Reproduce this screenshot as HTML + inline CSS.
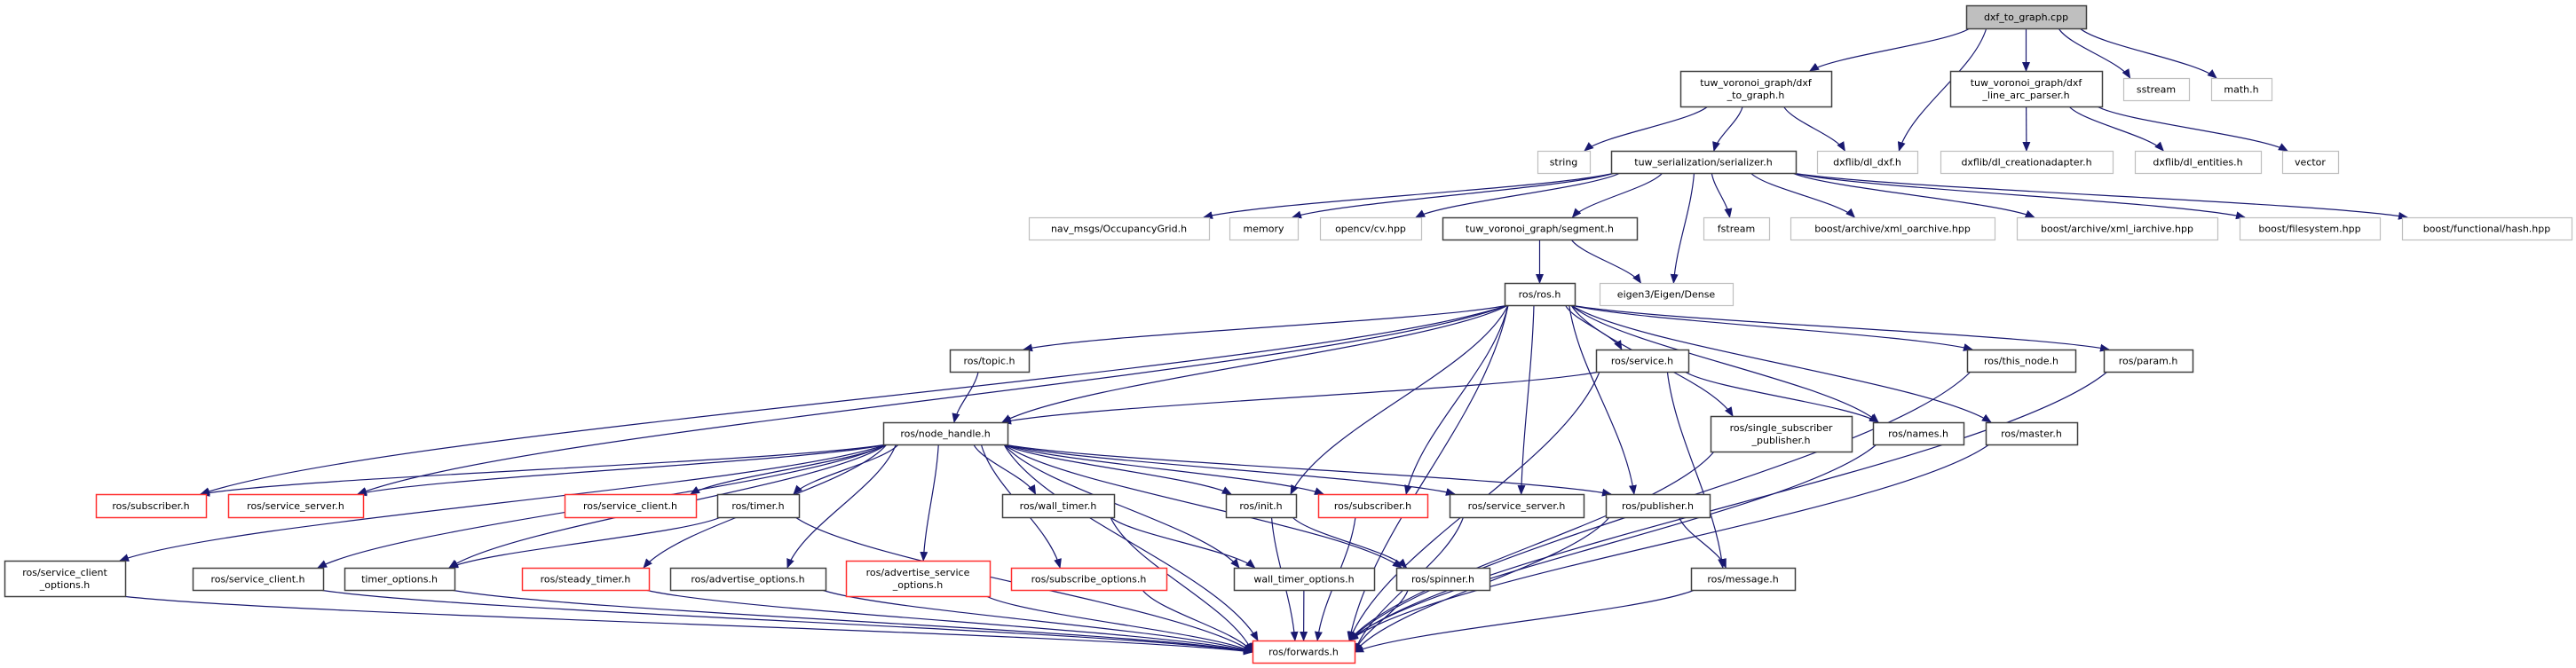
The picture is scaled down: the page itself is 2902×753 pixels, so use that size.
<!DOCTYPE html>
<html><head><meta charset="utf-8"><style>
html,body{margin:0;padding:0;background:#fff;width:2902px;height:753px;overflow:hidden}
svg{display:block}
text{font-family:"DejaVu Sans","Liberation Sans",sans-serif;font-size:11px}
</style></head><body>
<svg id="g" width="2902" height="753" viewBox="0 0 2902 753" xmlns="http://www.w3.org/2000/svg">
<defs><marker id="ah" markerWidth="11" markerHeight="9" refX="10" refY="4.5" orient="auto" markerUnits="userSpaceOnUse"><path d="M0,0 L11,4.5 L0,9 z" fill="#191970"/></marker></defs>
<g id="edges" fill="none" stroke="#191970" stroke-width="1.2"></g>
<g id="nodes"></g>
</svg>
<script>
var N={
root:[2215,6,2350,32,'dxf_to_graph.cpp','root'],
d2g:[1893,80,2063,120,'tuw_voronoi_graph/dxf|_to_graph.h','b'],
lap:[2197,80,2368,120,'tuw_voronoi_graph/dxf|_line_arc_parser.h','b'],
sstream:[2392,88,2466,113,'sstream','g'],
math:[2491,88,2559,113,'math.h','g'],
string:[1732,170,1791,195,'string','g'],
ser:[1815,170,2023,195,'tuw_serialization/serializer.h','b'],
dldxf:[2047,170,2160,195,'dxflib/dl_dxf.h','g'],
dlca:[2186,170,2380,195,'dxflib/dl_creationadapter.h','g'],
dlent:[2405,170,2547,195,'dxflib/dl_entities.h','g'],
vector:[2571,170,2634,195,'vector','g'],
occ:[1159,245,1362,270,'nav_msgs/OccupancyGrid.h','g'],
memory:[1385,245,1462,270,'memory','g'],
cv:[1487,245,1601,270,'opencv/cv.hpp','g'],
seg:[1625,245,1844,270,'tuw_voronoi_graph/segment.h','b'],
fstream:[1919,245,1993,270,'fstream','g'],
oarc:[2017,245,2247,270,'boost/archive/xml_oarchive.hpp','g'],
iarc:[2272,245,2498,270,'boost/archive/xml_iarchive.hpp','g'],
fs:[2523,245,2681,270,'boost/filesystem.hpp','g'],
hash:[2706,245,2897,270,'boost/functional/hash.hpp','g'],
ros:[1695,319,1774,344,'ros/ros.h','b'],
dense:[1802,319,1952,344,'eigen3/Eigen/Dense','g'],
topic:[1070,394,1159,419,'ros/topic.h','b'],
service:[1798,394,1902,419,'ros/service.h','b'],
thisn:[2216,394,2338,419,'ros/this_node.h','b'],
param:[2370,394,2470,419,'ros/param.h','b'],
nh:[995,476,1135,501,'ros/node_handle.h','b'],
ssp:[1927,469,2086,509,'ros/single_subscriber|_publisher.h','b'],
names:[2110,476,2212,501,'ros/names.h','b'],
master:[2237,476,2340,501,'ros/master.h','b'],
subL:[108,557,232,583,'ros/subscriber.h','r'],
ssL:[257,557,409,583,'ros/service_server.h','r'],
scR:[636,557,784,583,'ros/service_client.h','r'],
timer:[808,557,900,583,'ros/timer.h','b'],
wt:[1129,557,1255,583,'ros/wall_timer.h','b'],
init:[1381,557,1460,583,'ros/init.h','b'],
subM:[1485,557,1608,583,'ros/subscriber.h','r'],
ssM:[1633,557,1784,583,'ros/service_server.h','b'],
pub:[1809,557,1926,583,'ros/publisher.h','b'],
sco:[5,632,141,672,'ros/service_client|_options.h','b'],
sc:[217,640,364,665,'ros/service_client.h','b'],
to:[388,640,512,665,'timer_options.h','b'],
st:[588,640,731,665,'ros/steady_timer.h','r'],
ao:[755,640,930,665,'ros/advertise_options.h','b'],
aso:[953,632,1115,672,'ros/advertise_service|_options.h','r'],
so:[1139,640,1314,665,'ros/subscribe_options.h','r'],
wto:[1390,640,1548,665,'wall_timer_options.h','b'],
spin:[1573,640,1678,665,'ros/spinner.h','b'],
msg:[1905,640,2022,665,'ros/message.h','b'],
fwd:[1411,722,1526,747,'ros/forwards.h','r']
};
var E=[['root','d2g'],['root','dldxf'],['root','lap'],['root','sstream'],['root','math'],
['d2g','string'],['d2g','ser'],['d2g','dldxf'],['lap','dlca'],['lap','dlent'],['lap','vector'],
['ser','occ'],['ser','memory'],['ser','cv'],['ser','seg'],['ser','dense'],['ser','fstream'],['ser','oarc'],['ser','iarc'],['ser','fs'],['ser','hash'],
['seg','ros'],['seg','dense'],
['ros','subL'],['ros','ssL'],['ros','topic'],['ros','nh'],['ros','service'],['ros','init'],['ros','subM'],['ros','ssM'],['ros','pub'],['ros','ssp'],['ros','names'],['ros','thisn'],['ros','master'],['ros','param'],['ros','fwd'],
['topic','nh'],['service','nh'],['service','names'],['service','msg'],['service','fwd'],
['nh','subL'],['nh','ssL'],['nh','sco'],['nh','scR'],['nh','timer'],['nh','sc'],['nh','to'],['nh','st'],['nh','ao'],['nh','aso'],['nh','so'],['nh','wt'],['nh','wto'],['nh','spin'],['nh','init'],['nh','subM'],['nh','ssM'],['nh','pub'],['nh','fwd'],
['timer','to'],['timer','fwd'],['wt','wto'],['wt','fwd'],['init','spin'],['init','fwd'],['subM','fwd'],['ssM','fwd'],['pub','msg'],['pub','fwd'],
['ssp','fwd'],['names','fwd'],['master','fwd'],['thisn','fwd'],['param','fwd'],
['sco','fwd'],['sc','fwd'],['to','fwd'],['st','fwd'],['ao','fwd'],['aso','fwd'],['so','fwd'],['wto','fwd'],['spin','fwd'],['msg','fwd']];
var ns='http://www.w3.org/2000/svg';
function cl(v,a,b){return Math.max(a,Math.min(b,v));}
var eg=document.getElementById('edges'),ng=document.getElementById('nodes');
E.forEach(function(e){
 var s=N[e[0]],t=N[e[1]];
 var scx=(s[0]+s[2])/2,tcx=(t[0]+t[2])/2;
 var sx=cl(scx+(tcx-scx)*0.25,s[0]+4,s[2]-4),sy=s[3];
 var tx,ty;
 if(e[1]=='fwd'&&(t[1]-s[3])<200&&Math.abs(tcx-scx)>120){
   ty=735;tx=tcx<scx?t[2]:t[0];
 } else {tx=cl(tcx+(scx-tcx)*0.2,t[0]+6,t[2]-6);ty=t[1];}
 var dy=ty-sy;
 var p=document.createElementNS(ns,'path');
 p.setAttribute('d','M'+sx+','+sy+' C'+(sx+(tx-sx)*0.15)+','+(sy+dy*0.35)+' '+(tx-(tx-sx)*0.15)+','+(ty-dy*0.35)+' '+tx+','+ty);
 p.setAttribute('marker-end','url(#ah)');eg.appendChild(p);
});
for(var k in N){var n=N[k];
 var r=document.createElementNS(ns,'rect');
 r.setAttribute('x',n[0]+0.5);r.setAttribute('y',n[1]+0.5);r.setAttribute('width',n[2]-n[0]);r.setAttribute('height',n[3]-n[1]);
 var st=n[5];
 r.setAttribute('fill',st=='root'?'#bfbfbf':'#fff');
 r.setAttribute('stroke',st=='g'?'#bfbfbf':st=='r'?'#ff3030':'#404040');
 r.setAttribute('stroke-width',st=='g'?1.2:1.5);
 ng.appendChild(r);
 var lines=n[4].split('|'),cx=(n[0]+n[2])/2,cy=(n[1]+n[3])/2;
 lines.forEach(function(l,i){var t=document.createElementNS(ns,'text');
  t.setAttribute('x',cx);t.setAttribute('y',cy+4+(i-(lines.length-1)/2)*14);
  t.setAttribute('text-anchor','middle');t.setAttribute('fill','#000');t.textContent=l;ng.appendChild(t);});
}
</script>
</body></html>
